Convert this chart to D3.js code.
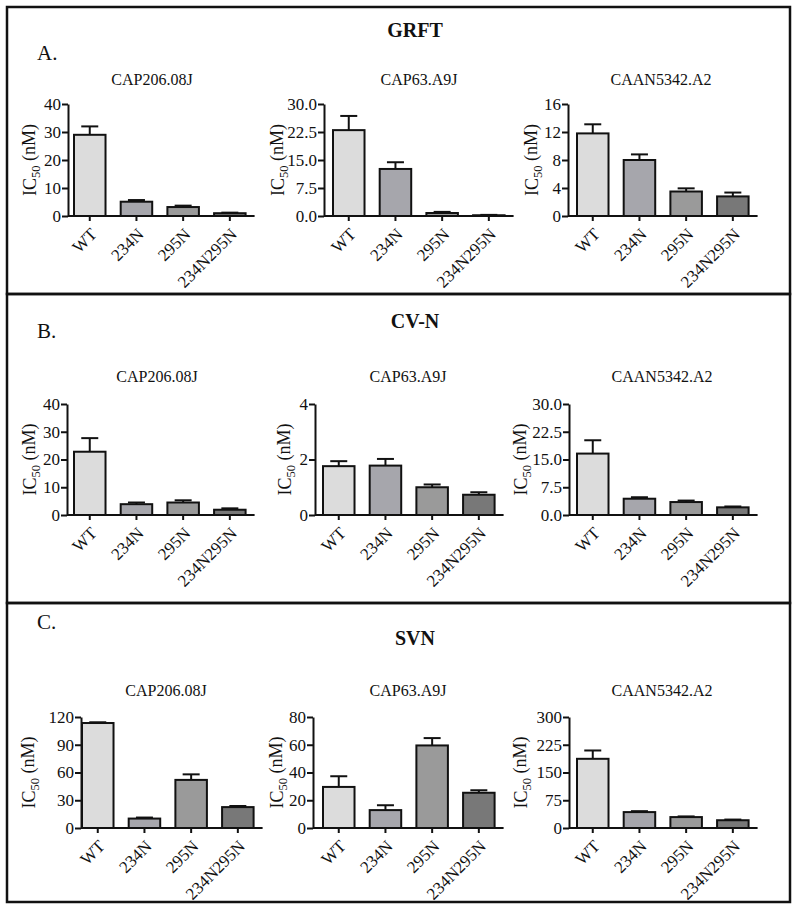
<!DOCTYPE html>
<html>
<head>
<meta charset="utf-8">
<script src="https://cdn.jsdelivr.net/npm/d3@7"></script>
<style>
  html, body { margin: 0; padding: 0; background: #fff; }
  svg { display: block; }
  text { font-family: "Liberation Serif", "Times New Roman", serif; fill: #111; }
</style>
</head>
<body>
<svg id="chart" width="800" height="916"></svg>
<script>
// ---------------- data ----------------
const categories = ["WT", "234N", "295N", "234N295N"];
const viruses = ["CAP206.08J", "CAP63.A9J", "CAAN5342.A2"];
const lectins = ["GRFT", "CV-N", "SVN"];
const panelLetters = ["A.", "B.", "C."];
const barColors = ["#dcdcdc", "#a6a6ac", "#9a9a9a", "#787878"];

// IC50 means (nM) and upper error bar ends, per virus
const grftMean  = [[29.0, 5.1, 3.2, 1.0], [23.0, 12.6, 0.8, 0.2], [11.8, 8.0, 3.5, 2.8]];
const grftUpper = [[32.0, 5.7, 3.7, 1.2], [26.8, 14.4, 1.1, 0.3], [13.1, 8.8, 3.95, 3.35]];
const cvnMean   = [[22.8, 3.9, 4.5, 1.9], [1.76, 1.78, 1.0, 0.73], [16.6, 4.4, 3.5, 2.07]];
const cvnUpper  = [[27.7, 4.5, 5.3, 2.4], [1.94, 2.02, 1.1, 0.82], [20.2, 4.8, 3.9, 2.3]];
const svnMean   = [[113.5, 10.2, 52.0, 22.6], [29.6, 12.9, 59.5, 25.4], [187, 43, 29.5, 21]];
const svnUpper  = [[114.3, 11.3, 58.0, 23.8], [37.3, 16.4, 64.8, 27.2], [209.5, 45.5, 31.3, 22.8]];

const grftTicks = [[0, 10, 20, 30, 40], [0, 7.5, 15, 22.5, 30], [0, 4, 8, 12, 16]];
const cvnTicks  = [[0, 10, 20, 30, 40], [0, 2, 4], [0, 7.5, 15, 22.5, 30]];
const svnTicks  = [[0, 30, 60, 90, 120], [0, 20, 40, 60, 80], [0, 75, 150, 225, 300]];

const grftFormats = ["d", ".1f", "d"];
const cvnFormats  = ["d", "d", ".1f"];
const svnFormats  = ["d", "d", "d"];

const panelMeans  = [grftMean, cvnMean, svnMean];
const panelUppers = [grftUpper, cvnUpper, svnUpper];
const panelTicks  = [grftTicks, cvnTicks, svnTicks];
const panelFormats = [grftFormats, cvnFormats, svnFormats];

// ---------------- layout ----------------
const panelBoxes = [[7, 294], [294, 603], [603, 902]];
const panelLayout = [
  { titleY: 37,  letterY: 60,  subY: 85,  yTop: 104, yBottom: 216 },
  { titleY: 328, letterY: 338, subY: 382, yTop: 404, yBottom: 515 },
  { titleY: 645, letterY: 629, subY: 696, yTop: 717, yBottom: 828 }
];
// per chart: y-axis x, first-bar left, y-label x, subtitle center x
const chartLayout = [
  [{ ax: 68, a: 74, lx: 30, sx: 152 }, { ax: 324, a: 333, lx: 278, sx: 419 }, { ax: 568, a: 577, lx: 532, sx: 661 }],
  [{ ax: 67, a: 74, lx: 30, sx: 157 }, { ax: 315, a: 323, lx: 285, sx: 408 }, { ax: 569, a: 577, lx: 521, sx: 662 }],
  [{ ax: 81, a: 82, lx: 29, sx: 166 }, { ax: 313, a: 323, lx: 277, sx: 408 }, { ax: 569, a: 577, lx: 521, sx: 662 }]
];
const bandSpan = 171.6, bandPad = 0.325, axisTail = 9, capW = 17, lw = 2;

const svg = d3.select("#chart");
svg.append("rect").attr("width", 800).attr("height", 916).attr("fill", "#fff");

panelBoxes.forEach(([y0, y1]) => {
  svg.append("rect").attr("x", 7).attr("y", y0).attr("width", 783).attr("height", y1 - y0)
    .attr("fill", "none").attr("stroke", "#111").attr("stroke-width", 2.5);
});

lectins.forEach((lec, p) => {
  const L = panelLayout[p];
  svg.append("text").attr("x", 415).attr("y", L.titleY).attr("text-anchor", "middle")
    .attr("font-size", 20).attr("font-weight", "bold").text(lec);
  svg.append("text").attr("x", 37).attr("y", L.letterY)
    .attr("font-size", 21).text(panelLetters[p]);

  viruses.forEach((vir, c) => {
    const C = chartLayout[p][c];
    const means = panelMeans[p][c], uppers = panelUppers[p][c], ticks = panelTicks[p][c];
    const g = svg.append("g");

    const x = d3.scaleBand().domain(categories).range([C.a, C.a + bandSpan])
      .paddingInner(bandPad).paddingOuter(0);
    const y = d3.scaleLinear().domain([0, d3.max(ticks)]).range([L.yBottom, L.yTop]);

    // subtitle
    g.append("text").attr("x", C.sx).attr("y", L.subY).attr("text-anchor", "middle")
      .attr("font-size", 16).text(vir);

    // y label
    const yl = g.append("text")
      .attr("transform", `translate(${C.lx},${(L.yTop + L.yBottom) / 2}) rotate(-90)`)
      .attr("text-anchor", "middle").attr("dy", "0.35em").attr("font-size", 18);
    yl.append("tspan").text("IC");
    yl.append("tspan").attr("font-size", 12.5).attr("dy", "0.3em").text("50");
    yl.append("tspan").attr("dy", "-0.3em").text(" (nM)");

    // error bars (upper only)
    categories.forEach((cat, i) => {
      const cx = x(cat) + x.bandwidth() / 2;
      g.append("line").attr("x1", cx).attr("x2", cx)
        .attr("y1", y(means[i])).attr("y2", y(uppers[i]))
        .attr("stroke", "#111").attr("stroke-width", lw);
      g.append("line").attr("x1", cx - capW / 2).attr("x2", cx + capW / 2)
        .attr("y1", y(uppers[i])).attr("y2", y(uppers[i]))
        .attr("stroke", "#111").attr("stroke-width", lw);
    });

    // bars
    g.selectAll("rect.bar").data(categories).join("rect")
      .attr("class", "bar")
      .attr("x", d => x(d))
      .attr("y", (d, i) => y(means[i]))
      .attr("width", x.bandwidth())
      .attr("height", (d, i) => y(0) - y(means[i]))
      .attr("fill", (d, i) => barColors[i])
      .attr("stroke", "#111").attr("stroke-width", lw);

    // y axis
    const fmt = d3.format(panelFormats[p][c]);
    const yAxis = g.append("g").attr("transform", `translate(${C.ax},0)`)
      .call(d3.axisLeft(y).tickValues(ticks).tickFormat(fmt).tickSize(6).tickSizeOuter(0));
    yAxis.select(".domain").attr("stroke", "#111").attr("stroke-width", lw);
    yAxis.selectAll(".tick line").attr("stroke", "#111").attr("stroke-width", lw);
    yAxis.selectAll(".tick text").attr("font-family", "Liberation Serif, serif")
      .attr("font-size", 17).attr("fill", "#111").attr("x", -7);

    // x axis
    const xAxis = g.append("g").attr("transform", `translate(0,${L.yBottom})`)
      .call(d3.axisBottom(x).tickSize(5).tickSizeOuter(0));
    xAxis.select(".domain").remove();
    xAxis.append("line").attr("x1", C.ax).attr("x2", x.range()[1] + axisTail)
      .attr("y1", 0).attr("y2", 0).attr("stroke", "#111").attr("stroke-width", lw);
    xAxis.selectAll(".tick line").attr("stroke", "#111").attr("stroke-width", lw);
    xAxis.selectAll(".tick text")
      .attr("font-family", "Liberation Serif, serif").attr("font-size", 17).attr("fill", "#111")
      .attr("x", null).attr("y", null).attr("dy", "0.35em")
      .attr("text-anchor", "end")
      .attr("transform", "translate(4,15) rotate(-45)");
  });
});
</script>
</body>
</html>
